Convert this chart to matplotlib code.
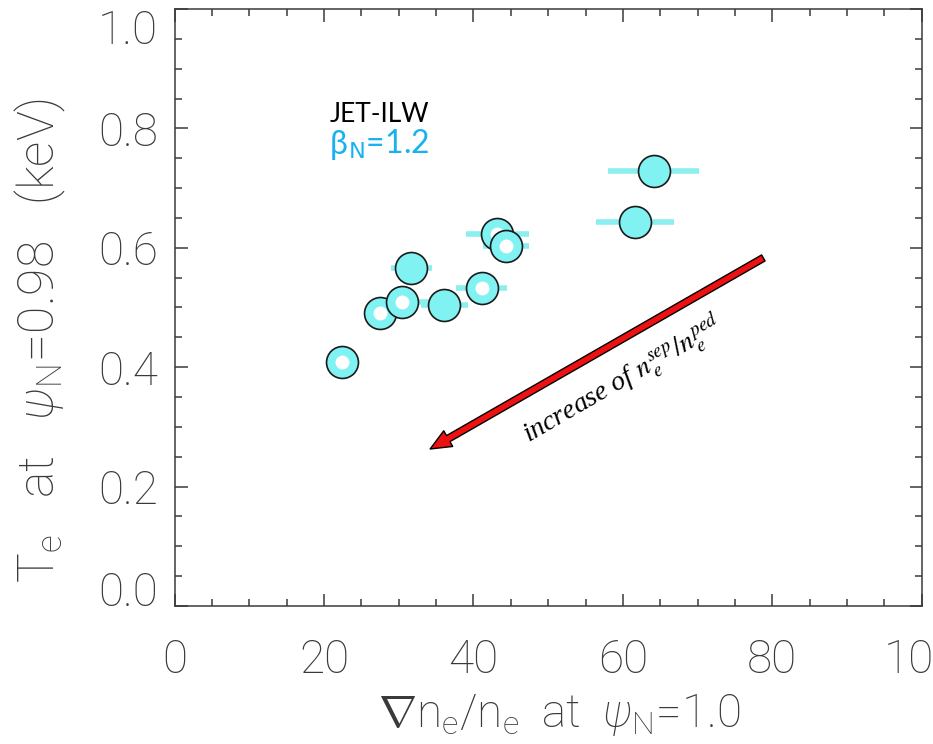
import numpy as np
import matplotlib.pyplot as plt

# edge density gradient vs pedestal-foot temperature, JET-ILW, beta_N = 1.2
grad_ne = np.array([22.4, 27.5, 30.4, 31.7, 36.1, 41.1, 43.2, 44.35, 61.6, 64.1])
te_098 = np.array([0.408, 0.490, 0.509, 0.566, 0.504, 0.532, 0.623, 0.603, 0.643, 0.729])
grad_err = np.array([1.5, 2.2, 3.6, 2.8, 3.1, 3.4, 4.2, 3.1, 5.2, 6.1])
hollow = np.array([True, True, True, False, False, True, True, True, False, False])

x_ticks = [0, 20, 40, 60, 80, 100]
y_ticks = [0.0, 0.2, 0.4, 0.6, 0.8, 1.0]

fill_c = '#80F2F2'
bar_c = '#8CEFEF'
ink = '#3a3a3a'
thin = dict(family='Roboto', weight='light', color=ink)

plt.rcParams['mathtext.fontset'] = 'custom'
plt.rcParams['mathtext.rm'] = 'Roboto:light'
plt.rcParams['mathtext.it'] = 'Roboto:light:italic'

fig = plt.figure(figsize=(9.33, 7.44), dpi=100)
ax = fig.add_axes([0.1872, 0.1855, 0.8007, 0.8024])

ax.errorbar(grad_ne, te_098, xerr=grad_err, fmt='none', ecolor=bar_c,
            elinewidth=4, capsize=0, zorder=2)
for x, y, h in zip(grad_ne, te_098, hollow):
    ax.plot(x, y, 'o', ms=23, mfc=fill_c, mec='#1a1a1a', mew=1.2, zorder=3)
    if h:
        ax.plot(x, y, 'o', ms=10, mfc='white', mec='none', zorder=3)

ax.set_xlim(0, 100)
ax.set_ylim(0, 1.0)
ax.set_xticks(x_ticks)
ax.set_yticks(y_ticks)
ax.set_xticks(np.arange(0, 101, 5), minor=True)
ax.set_yticks(np.arange(0, 1.001, 0.05), minor=True)
ax.set_xticklabels([str(v) for v in x_ticks], fontsize=33, **thin)
ax.set_yticklabels(['%.1f' % v for v in y_ticks], fontsize=33, **thin)
ax.tick_params(which='both', direction='in', top=True, right=True, color=ink, width=1.1)
ax.tick_params(which='major', length=9)
ax.tick_params(which='minor', length=5)
ax.tick_params(axis='x', which='major', pad=23)
ax.tick_params(axis='y', which='major', pad=12)
for s in ax.spines.values():
    s.set_color(ink)
    s.set_linewidth(1.1)

ylabs = ax.get_yticklabels()
ylabs[0].set_va('baseline')
ylabs[-1].set_va('top')

fig.text(0.043, 0.543, r'T$_{\rm e}$   at   $\psi_{\rm N}$=0.98   (keV)', rotation=90,
         ha='center', va='center', fontsize=36, **thin)
fig.text(0.600, 0.039, r'$\nabla$n$_{\rm e}$/n$_{\rm e}$  at  $\psi_{\rm N}$=1.0',
         ha='center', va='center', fontsize=33, **thin)

ax.text(20.8, 0.811, 'JET-ILW', fontsize=19, family=['Lato', 'DejaVu Sans'], color='black')
ax.text(20.8, 0.757, 'β', fontsize=23, family=['Lato', 'DejaVu Sans'], color='#1AB2EE')
ax.text(23.2, 0.757, r'$_{\rm N}$=1.2', fontsize=23, family=['Lato', 'DejaVu Sans'],
        color='#1AB2EE', math_fontfamily='dejavusans')

ax.annotate('', xy=(34.2, 0.263), xytext=(78.8, 0.583),
            arrowprops=dict(facecolor='#EE1111', edgecolor='black', lw=1,
                            width=5, headwidth=13, headlength=15, shrink=0))
ax.text(60.0, 0.379, r'increase of $n_e^{sep}/n_e^{ped}$', rotation=30,
        rotation_mode='anchor', ha='center', va='center', fontsize=20,
        family='Liberation Serif', style='italic', math_fontfamily='stix')

fig.savefig('out.png', dpi=100)
